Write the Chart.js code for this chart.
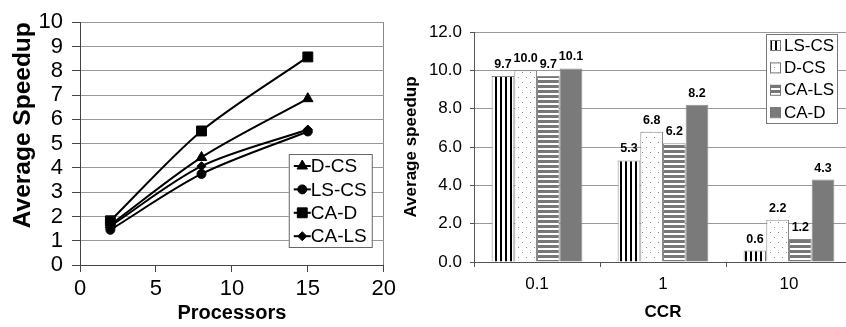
<!DOCTYPE html>
<html>
<head>
<meta charset="utf-8">
<script src="https://cdn.jsdelivr.net/npm/chart.js@4.4.1/dist/chart.umd.min.js"></script>
<style>
  html, body { margin: 0; padding: 0; background: #fff; overflow: hidden; width: 846px; height: 327px; }
  #left { position: absolute; left: 0; top: 0; }
  #right { position: absolute; left: 400px; top: 0; }
</style>
</head>
<body>
<canvas id="left" width="400" height="327"></canvas>
<canvas id="right" width="452" height="327"></canvas>
<script>
// left chart: speedup vs processors
var processors = [2, 8, 15];
var speedDCS  = [1.65, 4.43, 6.85];
var speedLSCS = [1.45, 3.75, 5.5];
var speedCAD  = [1.82, 5.52, 8.57];
var speedCALS = [1.6, 4.07, 5.58];

// right chart: speedup vs CCR
var ccrLabels = ['0.1', '1', '10'];
var barLSCS = [9.7, 5.3, 0.6];
var barDCS  = [10.0, 6.8, 2.2];
var barCALS = [9.7, 6.2, 1.2];
var barCAD  = [10.1, 8.2, 4.3];

var FONT = "'Liberation Sans', Arial, sans-serif";
Chart.defaults.font.family = FONT;
Chart.defaults.color = '#000';

function points(ys) {
  return processors.map(function (p, i) { return { x: p, y: ys[i] }; });
}

function lineSet(label, ys, style, radius) {
  return {
    label: label,
    data: points(ys),
    borderColor: '#000',
    backgroundColor: '#000',
    borderWidth: 2,
    pointStyle: style,
    pointRadius: radius,
    pointBorderWidth: 1,
    tension: 0.3,
    fill: false
  };
}

// legend box drawn inside the plot, like the original
var lineLegend = {
  id: 'lineLegend',
  afterDraw: function (chart) {
    var ctx = chart.ctx, a = chart.chartArea;
    var w = 83, h = 93, x = a.right - 12 - w, y = a.bottom - 18 - h;
    ctx.save();
    ctx.fillStyle = '#fff';
    ctx.fillRect(x, y, w, h);
    ctx.strokeStyle = '#666';
    ctx.lineWidth = 1;
    ctx.strokeRect(x + 0.5, y + 0.5, w, h);
    chart.data.datasets.forEach(function (ds, i) {
      var cy = y + 12 + i * 23.4;
      ctx.strokeStyle = '#000';
      ctx.lineWidth = 2;
      ctx.beginPath();
      ctx.moveTo(x + 5, cy);
      ctx.lineTo(x + 22, cy);
      ctx.stroke();
      ctx.fillStyle = '#000';
      ctx.lineWidth = 1;
      Chart.helpers.drawPoint(ctx, { pointStyle: ds.pointStyle, radius: ds.pointRadius, rotation: 0, borderWidth: 1 }, x + 13.5, cy);
      ctx.font = '19px ' + FONT;
      ctx.textBaseline = 'middle';
      ctx.textAlign = 'left';
      ctx.fillText(ds.label, x + 22, cy + 1);
    });
    ctx.restore();
  }
};

new Chart(document.getElementById('left'), {
  type: 'line',
  data: {
    datasets: [
      lineSet('D-CS', speedDCS, 'triangle', 6),
      lineSet('LS-CS', speedLSCS, 'circle', 4.5),
      lineSet('CA-D', speedCAD, 'rect', 7),
      lineSet('CA-LS', speedCALS, 'rectRot', 4.5)
    ]
  },
  options: {
    responsive: false,
    animation: false,
    layout: { padding: { top: 15, right: 15, left: 0, bottom: 0 } },
    plugins: { legend: { display: false }, tooltip: { enabled: false } },
    scales: {
      x: {
        type: 'linear', min: 0, max: 20,
        ticks: { stepSize: 5, autoSkip: false, font: { size: 22 }, padding: 4 },
        grid: {
          color: function (c) { return c.tick && c.tick.value === 20 ? '#888' : 'rgba(0,0,0,0)'; },
          tickColor: '#444', tickLength: 7
        },
        border: { color: '#444', width: 1 },
        title: { display: true, text: 'Processors', font: { size: 20, weight: 'bold' }, padding: { top: 0, bottom: 2 } },
        afterFit: function (s) { s.height = 62; }
      },
      y: {
        min: 0, max: 10,
        ticks: { stepSize: 1, autoSkip: false, font: { size: 22 }, padding: 9 },
        grid: { color: '#999', tickColor: '#444', tickLength: 8 },
        border: { color: '#444', width: 1 },
        title: { display: true, text: 'Average Speedup', align: 'end', font: { size: 24.5, weight: 'bold' }, padding: { top: 9, bottom: 0 } },
        afterFit: function (s) { s.width = 80; }
      }
    }
  },
  plugins: [lineLegend]
});

// bar fills
var rightCanvas = document.getElementById('right');
var rctx = rightCanvas.getContext('2d');
function makePattern(w, h, draw) {
  var c = document.createElement('canvas');
  c.width = w; c.height = h;
  var g = c.getContext('2d');
  g.fillStyle = '#fff';
  g.fillRect(0, 0, w, h);
  draw(g);
  return rctx.createPattern(c, 'repeat');
}
var vStripes = makePattern(5, 5, function (g) { g.fillStyle = '#000'; g.fillRect(0, 0, 2, 5); });
var dots = makePattern(8, 10, function (g) { g.fillStyle = '#888'; g.fillRect(2, 2, 1, 1); g.fillRect(6, 7, 1, 1); });
var hStripes = makePattern(5, 5, function (g) { g.fillStyle = '#777'; g.fillRect(0, 0, 5, 3); });

function barSet(label, values, fill) {
  return {
    label: label,
    data: values,
    backgroundColor: fill,
    borderColor: '#8a8a8a',
    borderWidth: 1,
    barPercentage: 1,
    categoryPercentage: 0.72
  };
}

var barLabels = {
  id: 'barLabels',
  afterDatasetsDraw: function (chart) {
    var ctx = chart.ctx;
    ctx.save();
    ctx.font = 'bold 12.5px ' + FONT;
    ctx.fillStyle = '#000';
    ctx.textAlign = 'center';
    ctx.textBaseline = 'alphabetic';
    chart.data.datasets.forEach(function (ds, i) {
      chart.getDatasetMeta(i).data.forEach(function (bar, j) {
        ctx.fillText(ds.data[j].toFixed(1), bar.x, bar.y - 8);
      });
    });
    ctx.restore();
  }
};

var barLegend = {
  id: 'barLegend',
  afterDraw: function (chart) {
    var ctx = chart.ctx, a = chart.chartArea;
    var w = 71, h = 89, x = a.right - 15 - w, y = a.top + 2;
    ctx.save();
    ctx.fillStyle = '#fff';
    ctx.fillRect(x, y, w, h);
    ctx.strokeStyle = '#777';
    ctx.lineWidth = 1;
    ctx.strokeRect(x + 0.5, y + 0.5, w, h);
    chart.data.datasets.forEach(function (ds, i) {
      var cy = y + 11 + i * 22.4;
      ctx.fillStyle = ds.backgroundColor;
      ctx.fillRect(x + 4, cy - 5, 10, 10);
      ctx.strokeStyle = '#777';
      ctx.strokeRect(x + 4.5, cy - 4.5, 10, 10);
      ctx.fillStyle = '#000';
      ctx.font = '17px ' + FONT;
      ctx.textBaseline = 'middle';
      ctx.textAlign = 'left';
      ctx.fillText(ds.label, x + 18, cy + 1);
    });
    ctx.restore();
  }
};

new Chart(rightCanvas, {
  type: 'bar',
  data: {
    labels: ccrLabels,
    datasets: [
      barSet('LS-CS', barLSCS, vStripes),
      barSet('D-CS', barDCS, dots),
      barSet('CA-LS', barCALS, hStripes),
      barSet('CA-D', barCAD, '#7a7a7a')
    ]
  },
  options: {
    responsive: false,
    animation: false,
    layout: { padding: { top: 32, right: 0, left: 0, bottom: 0 } },
    plugins: { legend: { display: false }, tooltip: { enabled: false } },
    scales: {
      x: {
        ticks: { font: { size: 17 }, padding: 7 },
        grid: { offset: true, drawOnChartArea: false, tickColor: '#555', tickLength: 5 },
        border: { color: '#555', width: 1 },
        title: { display: true, text: 'CCR', font: { size: 17, weight: 'bold' }, padding: { top: 0, bottom: 4 } },
        afterFit: function (s) { s.height = 65; }
      },
      y: {
        min: 0, max: 12,
        ticks: { stepSize: 2, autoSkip: false, font: { size: 17 }, padding: 8, callback: function (v) { return v.toFixed(1); } },
        grid: { color: '#999', tickColor: '#555', tickLength: 4 },
        border: { color: '#555', width: 1 },
        title: { display: true, text: 'Average speedup', font: { size: 17, weight: 'bold' }, padding: { top: 1, bottom: 0 } },
        afterFit: function (s) { s.width = 74; }
      }
    }
  },
  plugins: [barLabels, barLegend]
});
</script>
</body>
</html>
